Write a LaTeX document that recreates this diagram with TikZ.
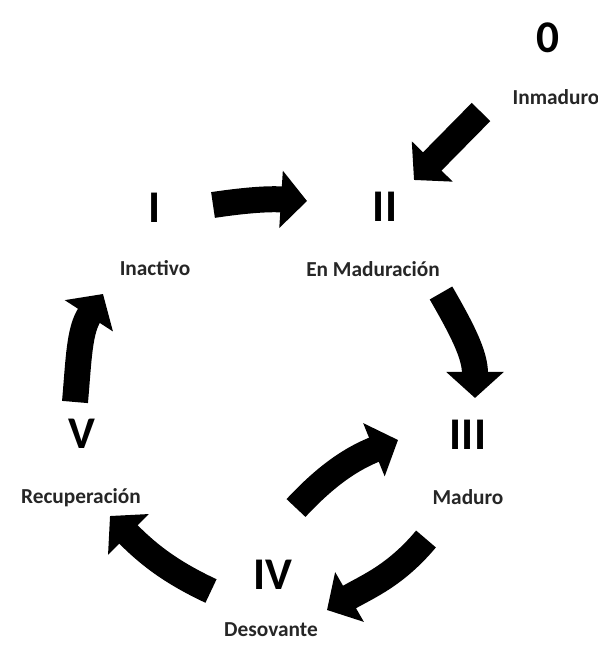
\documentclass[tikz,border=0pt]{standalone}
\usepackage{fontspec}
\setmainfont{Carlito}
\usetikzlibrary{arrows.meta}
\begin{document}
\begin{tikzpicture}[x=.75pt,y=.75pt]
	\tikzstyle{every node}=[inner sep=0pt, font=\bfseries]
	\tikzstyle{num}=[font=\fontsize{34}{34}\selectfont\bfseries]
	\tikzstyle{lbl}=[font=\fontsize{16}{16}\selectfont\bfseries, text=black!85]
	\tikzstyle{big}=[line width=19.5pt, -{Triangle[length=19.5pt,width=42pt]}]
	\useasboundingbox (0,0) rectangle (598,648);
	% stages
	\draw (548,610) node (s0) [num] {0};
	\draw (155,440) node (s1) [num] {I};
	\draw (385,441) node (s2) [num] {II};
	\draw (468,213) node (s3) [num] {III};
	\draw (273,73) node (s4) [num] {IV};
	\draw (82,214) node (s5) [num] {V};
	% names
	\draw (556,551) node (l0) [lbl] {Inmaduro};
	\draw (155,380) node (l1) [lbl] {Inactivo};
	\draw (373,379) node (l2) [lbl] {En Maduración};
	\draw (468,151) node (l3) [lbl] {Maduro};
	\draw (271,18) node (l4) [lbl] {Desovante};
	\draw (81,150) node (l5) [lbl] {Recuperación};
	% arrow ends
	\coordinate (a0) at (481,536); \coordinate (b0) at (414,468);
	\coordinate (a1) at (213,443); \coordinate (b1) at (307,447);
	\coordinate (a2) at (441,355); \coordinate (b2) at (475,250);
	\coordinate (a3) at (426,109); \coordinate (b3) at (327,38);
	\coordinate (a4) at (211,57);  \coordinate (b4) at (110,132);
	\coordinate (a5) at (75,246);  \coordinate (b5) at (103,354);
	\coordinate (a6) at (296,140); \coordinate (b6) at (398,208);
	\draw[big] (a0) -- (b0);
	\draw[big] (a1) to[bend left=6] (b1);
	\draw[big] (a2) to[out=-60,in=90] (b2);
	\draw[big] (a3) to[out=230,in=30] (b3);
	\draw[big] (a4) to[out=155,in=-45] (b4);
	\draw[big] (a5) to[out=85,in=-123] (b5);
	\draw[big] (a6) to[out=47,in=202] (b6);
\end{tikzpicture}
\end{document}
